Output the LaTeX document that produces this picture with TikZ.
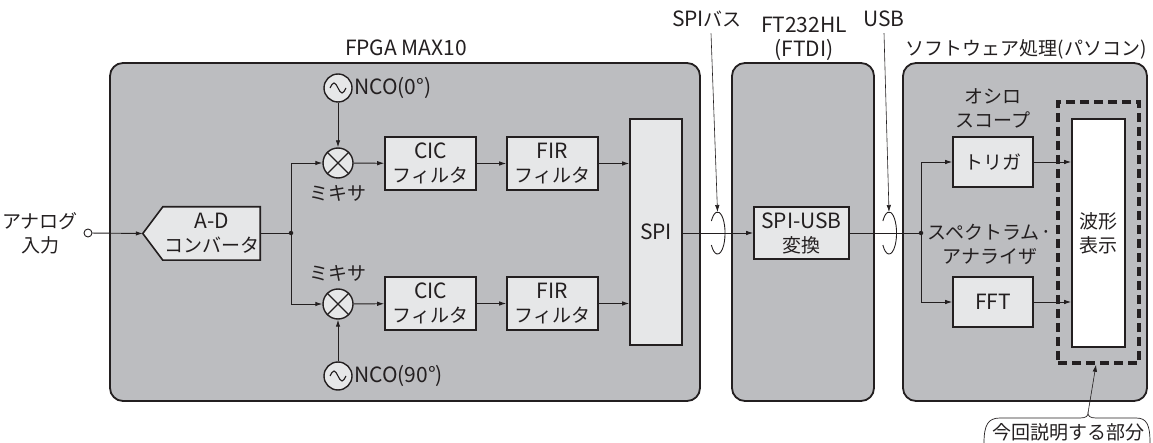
\documentclass[tikz,border=0pt]{standalone}
\usepackage{fontspec}
\setmainfont{Noto Sans CJK JP}
\usetikzlibrary{arrows.meta,calc}
\definecolor{grp}{RGB}{188,189,192}
\definecolor{blk}{RGB}{230,231,232}
\definecolor{ln}{RGB}{35,31,32}
\newcommand\jpf{\fontsize{19}{24}\selectfont}
\newcommand\en[1]{{\fontsize{21}{24}\selectfont #1}}
\begin{document}
\begin{tikzpicture}[x=1pt,y=-1pt,
  every node/.style={font=\jpf, text=ln, inner sep=0, align=center},
  grpbox/.style={draw=ln, fill=grp, line width=1.8, rounded corners=13},
  blkbox/.style={draw=ln, fill=blk, line width=1.6},
  circ/.style={circle, draw=ln, fill=blk, line width=1.4, minimum size=#1},
  conn/.style={draw=ln, line width=0.9},
  arr/.style={conn, -{Latex[length=7pt,width=4.5pt]}},
  dot/.style={circle, fill=ln, inner sep=0, minimum size=4.5},
]
\useasboundingbox (0,0) rectangle (1153,443);

% group boxes
\node[grpbox, minimum width=590, minimum height=338] (fpga) at (405,232) {};
\node[grpbox, minimum width=142, minimum height=338] (ftdi) at (803,232) {};
\node[grpbox, minimum width=244, minimum height=338] (soft) at (1025,232) {};

\node (fpgal) at (406,48) {\en{FPGA MAX10}};
\node (ftdil) at (804,39) {\en{FT232HL}\\\en{(FTDI)}};
\node (softl) at (1026,49) {ソフトウェア処理(パソコン)};
\node (spibl) at (707,19) {\en{SPI}バス};
\node (usbl) at (884,19) {\en{USB}};

% input
\node[circle, draw=ln, fill=white, line width=0.9, minimum size=8] (in) at (88,233) {};
\node (inl) at (40,233) {アナログ\\入力};

% ADC
\node[minimum width=117, minimum height=53] (adc) at (201.5,233.5) {};
\draw[blkbox] (adc.west) -- ([xshift=20]adc.north west) -- (adc.north east) -- (adc.south east) -- ([xshift=20]adc.south west) -- cycle;
\node (adct) at (212,233) {\en{A-D}\\コンバータ};

\node[dot] (j1) at (291,233) {};

% mixers and NCOs
\node[circ=30] (mix1) at (338,163) {};
\node[circ=30] (mix2) at (338,304) {};
\foreach \m in {mix1,mix2}{
  \draw[ln, line width=1.1] (\m.45) -- (\m.225) (\m.135) -- (\m.315);
}
\node[circ=28] (nco1) at (338,88) {};
\node[circ=28] (nco2) at (338,376) {};
\foreach \n in {nco1,nco2}{
  \draw[ln, line width=1.1] ($(\n)+(-8,0)$) sin ($(\n)+(-4,-5)$) cos (\n) sin ($(\n)+(4,5)$) cos ($(\n)+(8,0)$);
}
\node[anchor=west] (nco1l) at (354,88) {\en{NCO(0°)}};
\node[anchor=west] (nco2l) at (354,376) {\en{NCO(90°)}};
\node (mix1l) at (338,193) {ミキサ};
\node (mix2l) at (338,273) {ミキサ};

% filters
\node[blkbox, minimum width=91, minimum height=53] (cic1) at (430.5,163.5) {\en{CIC}\\フィルタ};
\node[blkbox, minimum width=91, minimum height=53] (cic2) at (430.5,303.5) {\en{CIC}\\フィルタ};
\node[blkbox, minimum width=91, minimum height=53] (fir1) at (552.5,163.5) {\en{FIR}\\フィルタ};
\node[blkbox, minimum width=91, minimum height=53] (fir2) at (552.5,303.5) {\en{FIR}\\フィルタ};
\node[blkbox, minimum width=52, minimum height=226] (spi) at (656,232) {\en{SPI}};

% FTDI
\node[blkbox, minimum width=95, minimum height=52] (conv) at (801.5,233) {\en{SPI-USB}\\変換};

% software
\node[dot] (j2) at (921,233) {};
\node[blkbox, minimum width=80, minimum height=50] (trig) at (993,162) {トリガ};
\node[blkbox, minimum width=80, minimum height=50] (fft) at (993,302) {\en{FFT}};
\node[draw=ln, fill=white, line width=1.6, minimum width=53, minimum height=228] (wave) at (1098.5,233) {波形\\表示};
\node[draw=ln, line width=3.5, dash pattern=on 9pt off 5pt, minimum width=81, minimum height=261] (part) at (1098.5,232.5) {};
\node (oscl) at (993,108) {オシロ\\スコープ};
\node (spcl) at (990,244) {スペクトラム\kern1pt{\en{·}}\\アナライザ};

% connectors FPGA
\draw[arr] (in) -- (adc.west);
\draw[conn] (adc.east |- j1) -- (j1);
\draw[arr] (j1.center) |- (mix1.west);
\draw[arr] (j1.center) |- (mix2.west);
\draw[arr] (nco1) -- (mix1);
\draw[arr] (nco2) -- (mix2);
\draw[arr] (mix1) -- (cic1);
\draw[arr] (mix2) -- (cic2);
\draw[arr] (cic1) -- (fir1);
\draw[arr] (cic2) -- (fir2);
\draw[arr] (fir1.east) -- (fir1.east -| spi.west);
\draw[arr] (fir2.east) -- (fir2.east -| spi.west);
\draw[arr] (spi.east |- conv) -- (conv.west);
\draw[conn] (conv.east) -- (j2);
\draw[arr] (j2.center) |- (trig.west);
\draw[arr] (j2.center) |- (fft.west);
\draw[arr] (trig.east) -- (trig.east -| wave.west);
\draw[arr] (fft.east) -- (fft.east -| wave.west);

% bus symbols
\coordinate (bus1) at (717.5,233);
\coordinate (bus2) at (889,233);
\foreach \b in {bus1,bus2}{
  \draw[conn] ($(\b)+(-6.1,-12)$) arc[start angle=-145, end angle=145, x radius=7.5, y radius=21];
}
\draw[arr, line width=0.6] (spibl.south) ++(4,6) coordinate (s1) -- ($(bus1)+(0,-21)$);
\draw[arr, line width=0.6] (usbl.south) ++(0,6) coordinate (s2) -- ($(bus2)+(0,-21)$);

% callout
\node (calll) at (1068,432) {今回説明する部分};
\coordinate (tip) at (1088,413);
\draw[conn, line width=0.7] (984,443) .. controls (984,425) and (988,418) .. (1000,418) -- (1080,418) .. controls (1086,418) and (1088,416) .. (tip) .. controls (1088,416) and (1090,418) .. (1096,418) -- (1136,418) .. controls (1147,418) and (1150,425) .. (1150,443);
\draw[arr, line width=0.6] (tip) -- (part.south -| 1096,0);
\end{tikzpicture}
\end{document}
